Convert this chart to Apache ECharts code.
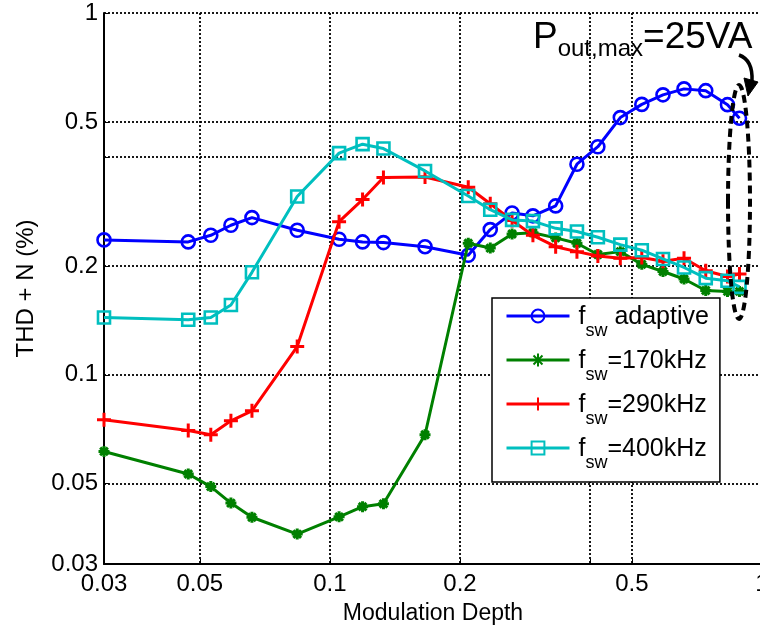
<!DOCTYPE html>
<html>
<head>
<meta charset="utf-8">
<script src="https://cdn.jsdelivr.net/npm/echarts@6/dist/echarts.min.js"></script>
<style>
  html, body { margin: 0; padding: 0; background: #fff; }
  #chart { width: 760px; height: 634px; }
</style>
</head>
<body>
<div id="chart"></div>
<script>
// Modulation depth sweep (shared by all four measurements)
const modulationDepth = [0.030, 0.047, 0.053, 0.059, 0.066, 0.084, 0.105, 0.119, 0.133, 0.166, 0.209, 0.235,
                         0.264, 0.295, 0.333, 0.373, 0.417, 0.470, 0.527, 0.590, 0.660, 0.741, 0.832, 0.887];

// THD + N (%) for each switching-frequency setting
const thdAdaptive = [0.236, 0.233, 0.243, 0.259, 0.272, 0.251, 0.237, 0.233, 0.232, 0.226, 0.214, 0.252,
                     0.280, 0.275, 0.293, 0.382, 0.427, 0.514, 0.559, 0.594, 0.617, 0.610, 0.558, 0.512];
const thd170k   = [0.0614, 0.0532, 0.0491, 0.0442, 0.0404, 0.0363, 0.0405, 0.0432, 0.0440, 0.0683, 0.231, 0.224,
                   0.245, 0.247, 0.239, 0.231, 0.215, 0.219, 0.202, 0.193, 0.184, 0.171, 0.170, 0.170];
const thd290k   = [0.0751, 0.0702, 0.0683, 0.0746, 0.0795, 0.1197, 0.265, 0.305, 0.351, 0.352, 0.330, 0.297,
                   0.267, 0.243, 0.226, 0.219, 0.213, 0.210, 0.211, 0.206, 0.210, 0.194, 0.187, 0.190];
const thd400k   = [0.144, 0.142, 0.144, 0.156, 0.192, 0.311, 0.410, 0.434, 0.422, 0.366, 0.312, 0.286,
                   0.268, 0.266, 0.254, 0.249, 0.240, 0.229, 0.221, 0.209, 0.198, 0.185, 0.182, 0.175];

// Axis ticks
const xTickLabels = [0.03, 0.05, 0.1, 0.2, 0.5, 1];
const yTickLabels = [0.03, 0.05, 0.1, 0.2, 0.5, 1];
const xGridValues = [0.03, 0.05, 0.1, 0.2, 0.4, 0.5, 1];
const yGridValues = [0.03, 0.05, 0.1, 0.2, 0.4, 0.5, 1];

// Legend entries: "f" with subscript "sw" followed by the setting
const seriesNames  = ['fsw adaptive', 'fsw=170kHz', 'fsw=290kHz', 'fsw=400kHz'];
const legendSuffix = [' adaptive', '=170kHz', '=290kHz', '=400kHz'];

const FONT = 'Liberation Sans, Arial, Helvetica, sans-serif';
const colors = ['#0000ff', '#008000', '#ff0000', '#00bfbf'];

const plusPath = 'path://M0,5L10,5M5,0L5,10';
const starPath = 'path://M0,5L10,5M5,0L5,10M1.5,1.5L8.5,8.5M1.5,8.5L8.5,1.5';

const fmtNum = v => String(parseFloat(Number(v).toPrecision(6)));

function makeSeries(idx, values, symbol, size, fill, bw) {
  return {
    name: seriesNames[idx],
    type: 'line',
    data: modulationDepth.map((x, i) => [x, values[i]]),
    symbol: symbol,
    symbolSize: size,
    showAllSymbol: true,
    lineStyle: { color: colors[idx], width: 3 },
    itemStyle: { color: fill, borderColor: colors[idx], borderWidth: bw },
    emphasis: { disabled: true },
    z: 3 + idx
  };
}

const axisCommon = {
  type: 'log',
  logBase: 10,
  min: 0.03,
  max: 1,
  axisLine: { show: true, onZero: false, lineStyle: { color: '#000', width: 2 } },
  splitLine: { show: true, lineStyle: { color: '#000', width: 1.8, type: [2, 2] } },
  minorTick: { show: false },
  minorSplitLine: { show: false }
};

const chart = echarts.init(document.getElementById('chart'), null, { renderer: 'canvas' });

chart.setOption({
  animation: false,
  backgroundColor: '#fff',
  textStyle: { fontFamily: FONT },
  grid: { left: 104, top: 13, width: 658, height: 551, containLabel: false, outerBoundsMode: 'none' },
  xAxis: Object.assign({}, axisCommon, {
    name: 'Modulation Depth',
    nameLocation: 'middle',
    nameGap: 38,
    nameTextStyle: { fontSize: 23, color: '#000', fontFamily: FONT },
    axisTick: { show: true, inside: true, length: 5, customValues: xGridValues, lineStyle: { color: '#000', width: 1 } },
    axisLabel: { customValues: xTickLabels, formatter: fmtNum, fontSize: 24, color: '#000', margin: 8, fontFamily: FONT }
  }),
  yAxis: Object.assign({}, axisCommon, {
    name: 'THD + N (%)',
    nameLocation: 'middle',
    nameGap: 66,
    nameTextStyle: { fontSize: 24, color: '#000', fontFamily: FONT },
    axisTick: { show: true, inside: true, length: 5, customValues: yGridValues, lineStyle: { color: '#000', width: 1 } },
    axisLabel: { customValues: yTickLabels, formatter: fmtNum, fontSize: 24, color: '#000', margin: 6, fontFamily: FONT }
  }),
  legend: {
    orient: 'vertical',
    left: 492,
    top: 298,
    padding: [5, 11, 10, 13],
    itemWidth: 63,
    itemHeight: 16,
    itemGap: 7,
    backgroundColor: '#fff',
    borderColor: '#000',
    borderWidth: 1.5,
    borderRadius: 0,
    selectedMode: false,
    data: seriesNames,
    lineStyle: { width: 3 },
    formatter: name => '{f|f}{s|sw}{t|' + legendSuffix[seriesNames.indexOf(name)] + '}',
    textStyle: {
      fontFamily: FONT,
      color: '#000',
      rich: {
        f: { fontSize: 25, lineHeight: 26, verticalAlign: 'top', padding: [2, 0, 0, 4], color: '#000', fontFamily: FONT },
        s: { fontSize: 18, lineHeight: 18, verticalAlign: 'top', padding: [19, 0, 0, 0], color: '#000', fontFamily: FONT },
        t: { fontSize: 25, lineHeight: 26, verticalAlign: 'top', padding: [2, 0, 0, 0], color: '#000', fontFamily: FONT }
      }
    }
  },
  series: [
    makeSeries(0, thdAdaptive, 'circle', 13, 'rgba(0,0,0,0)', 2.6),
    makeSeries(1, thd170k, starPath, 11, colors[1], 3),
    makeSeries(2, thd290k, plusPath, 14, colors[2], 3),
    makeSeries(3, thd400k, 'rect', 12, 'rgba(0,0,0,0)', 2.6)
  ],
  graphic: [
    {
      type: 'text',
      left: 533,
      top: 19,
      z: 100,
      style: {
        text: '{p|P}{s|out,max}{p|=25VA}',
        fill: '#000',
        rich: {
          p: { fontSize: 37, lineHeight: 40, verticalAlign: 'top', fontFamily: FONT, fill: '#000' },
          s: { fontSize: 24, lineHeight: 24, verticalAlign: 'top', padding: [18, 0, 0, 0], fontFamily: FONT, fill: '#000' }
        }
      }
    },
    {
      type: 'ellipse',
      z: 100,
      shape: { cx: 739, cy: 202, rx: 11, ry: 117 },
      style: { fill: 'none', stroke: '#000', lineWidth: 4, lineDash: [8, 5] }
    },
    {
      type: 'bezierCurve',
      z: 100,
      shape: { x1: 739, y1: 55, cpx1: 753, cpy1: 60, x2: 752, y2: 81 },
      style: { fill: 'none', stroke: '#000', lineWidth: 3.5 }
    },
    {
      type: 'polygon',
      z: 100,
      shape: { points: [[744, 78], [758, 82], [748, 96]] },
      style: { fill: '#000', stroke: '#000', lineWidth: 1 }
    }
  ]
});
</script>
</body>
</html>
